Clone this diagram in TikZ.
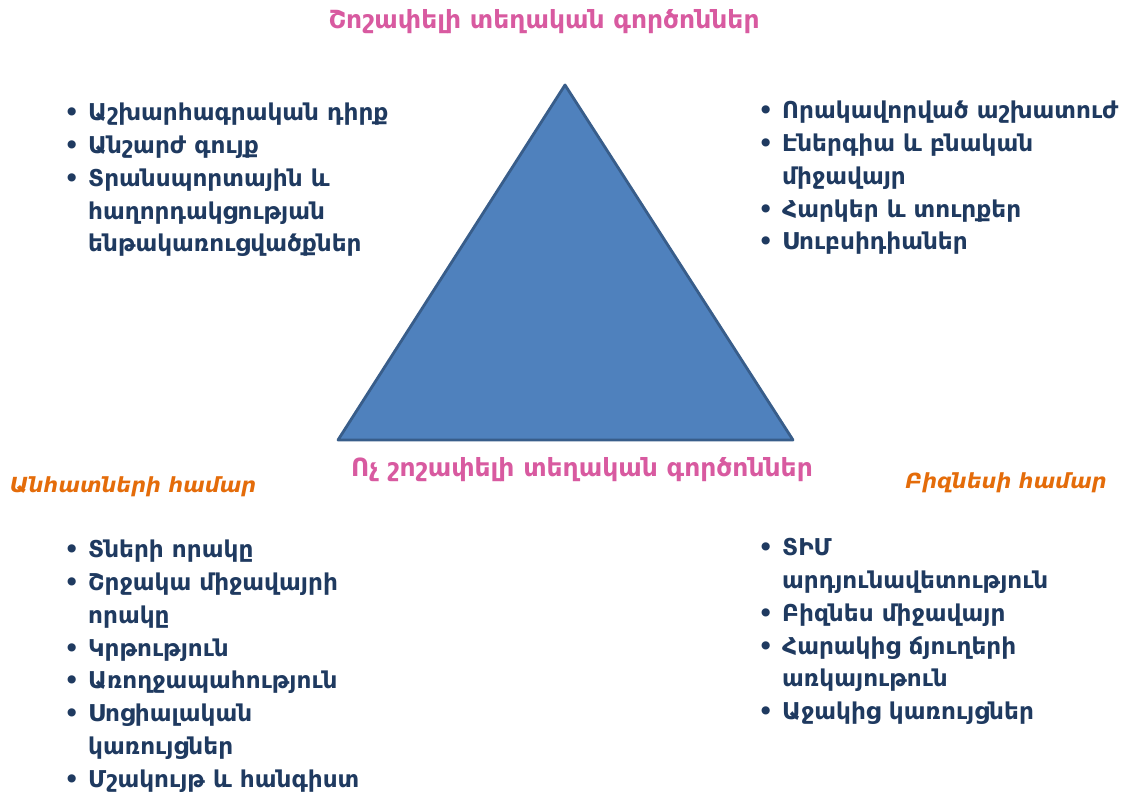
\documentclass[tikz,border=0pt]{standalone}
\usepackage{fontspec}
\setmainfont{DejaVu Sans}
\usetikzlibrary{positioning}
\definecolor{navy}{HTML}{1F3A60}
\definecolor{pinkt}{HTML}{D85AA0}
\definecolor{orangt}{HTML}{E46C0A}
\definecolor{trifill}{HTML}{4F81BD}
\definecolor{triline}{HTML}{385D8A}
\tikzstyle{facttitle} = [text=pinkt, font=\fontsize{17.8}{20}\selectfont\bfseries, inner sep=0pt]
\tikzstyle{grouplabel} = [text=orangt, font=\fontsize{14.8}{18}\selectfont\bfseries\itshape, inner sep=0pt]
\tikzstyle{factlist} = [text=navy, font=\fontsize{16.5}{23.4}\selectfont\bfseries, inner sep=0pt, anchor=north west]
\tikzstyle{pyramid} = [fill=trifill, draw=triline, line width=2pt, line join=round]
\newcommand{\itm}[1]{\textbullet & #1\\}
\newcommand{\cnt}[1]{ & #1\\}

\begin{document}
\begin{tikzpicture}[x=0.025cm, y=-0.025cm]
\useasboundingbox (0,0) rectangle (1129,801);

\coordinate (apex) at (565,85);
\coordinate (bl) at (338,440);
\coordinate (br) at (793,440);
\draw[pyramid] (apex) -- (bl) -- (br) -- cycle;

% titles
\node[facttitle] (toptitle) at (544,22) {Շոշափելի տեղական գործոններ};
\node[facttitle] (bottitle) at (582,470) {Ոչ շոշափելի տեղական գործոններ};
\node[grouplabel] (people) at (133,487) {Անհատների համար};
\node[grouplabel] (business) at (1006,483) {Բիզնեսի համար};

% lists
\node[factlist] (tl) at (64,97) {\begin{tabular}{@{}p{17pt}@{}l@{}}
\itm{Աշխարհագրական դիրք}
\itm{Անշարժ գույք}
\itm{Տրանսպորտային և}
\cnt{հաղորդակցության}
\cnt{ենթակառուցվածքներ}
\end{tabular}};

\node[factlist] (tr) at (758,95) {\begin{tabular}{@{}p{17pt}@{}l@{}}
\itm{Որակավորված աշխատուժ}
\itm{Էներգիա և բնական}
\cnt{միջավայր}
\itm{Հարկեր և տուրքեր}
\itm{Սուբսիդիաներ}
\end{tabular}};

\node[factlist] (bl list) at (64,534) {\begin{tabular}{@{}p{17pt}@{}l@{}}
\itm{Տների որակը}
\itm{Շրջակա միջավայրի}
\cnt{որակը}
\itm{Կրթություն}
\itm{Առողջապահություն}
\itm{Սոցիալական}
\cnt{կառույցներ}
\itm{Մշակույթ և հանգիստ}
\end{tabular}};

\node[factlist] (br list) at (758,532) {\begin{tabular}{@{}p{17pt}@{}l@{}}
\itm{ՏԻՄ}
\cnt{արդյունավետություն}
\itm{Բիզնես միջավայր}
\itm{Հարակից ճյուղերի}
\cnt{առկայութուն}
\itm{Աջակից կառույցներ}
\end{tabular}};
\end{tikzpicture}
\end{document}
